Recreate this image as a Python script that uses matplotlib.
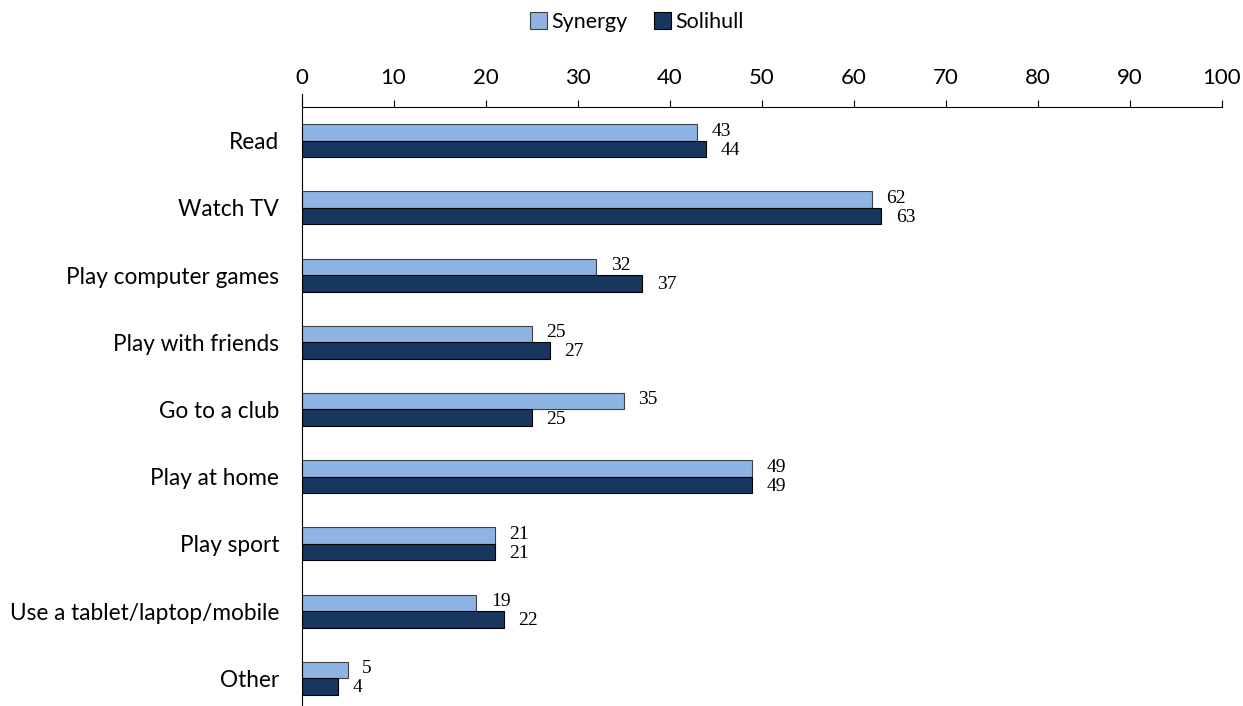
import numpy as np
import matplotlib.pyplot as plt
from matplotlib.patches import Patch

categories = ['Read', 'Watch TV', 'Play computer games', 'Play with friends',
              'Go to a club', 'Play at home', 'Play sport',
              'Use a tablet/laptop/mobile', 'Other']
synergy = [43, 62, 32, 25, 35, 49, 21, 19, 5]
solihull = [44, 63, 37, 27, 25, 49, 21, 22, 4]
series_names = ['Synergy', 'Solihull']
x_ticks = list(range(0, 101, 10))

light = '#8EB4E3'
dark = '#17375E'

fig = plt.figure(figsize=(12.43, 7.06), dpi=100)
# axes placed in pixel terms of the reference
left, right = 301.5 / 1243, 1221.5 / 1243
top_px, bot_px = 107, 712
ax = fig.add_axes([left, 1 - bot_px / 706, right - left, (bot_px - top_px) / 706])

y = np.arange(len(categories))
h = 0.245
ax.barh(y - h / 2, synergy, height=h, color=light, edgecolor='#404040', linewidth=0.8)
ax.barh(y + h / 2, solihull, height=h, color=dark, edgecolor='black', linewidth=0.8)

for i in range(len(categories)):
    ax.text(synergy[i] + 1.6, y[i] - h / 2 - 0.02, str(synergy[i]), va='center', ha='left',
            fontsize=14, family='Liberation Serif')
    ax.text(solihull[i] + 1.6, y[i] + h / 2 + 0.02, str(solihull[i]), va='center', ha='left',
            fontsize=14, family='Liberation Serif')

ax.set_xlim(0, 100)
ax.set_ylim(len(categories) - 0.5, -0.5)
ax.set_xticks(x_ticks)
ax.xaxis.tick_top()
ax.tick_params(axis='x', direction='out', length=5, width=0.8, pad=9, labelsize=16)
ax.set_yticks(y)
ax.set_yticklabels(categories)
ax.tick_params(axis='y', length=0, pad=16, labelsize=16.3)
for lab in ax.get_xticklabels() + ax.get_yticklabels():
    lab.set_family('Lato')
ax.spines['right'].set_visible(False)
ax.spines['bottom'].set_visible(False)
ax.spines['top'].set_linewidth(0.8)
ax.spines['left'].set_linewidth(0.8)
ax.spines['left'].set_bounds(len(categories) - 0.5, -0.7)
ax.spines['left'].set_clip_on(False)

handles = [Patch(facecolor=light, edgecolor='#404040', linewidth=0.8),
           Patch(facecolor=dark, edgecolor='black', linewidth=0.8)]
fig.legend(handles, series_names, loc='center', bbox_to_anchor=(637 / 1243, 1 - 22 / 706),
           ncol=2, frameon=False, prop={'family': 'Lato', 'size': 15.5},
           handlelength=0.8, handleheight=0.8, handletextpad=0.2, columnspacing=1.2)

fig.savefig('out.png', dpi=100)
